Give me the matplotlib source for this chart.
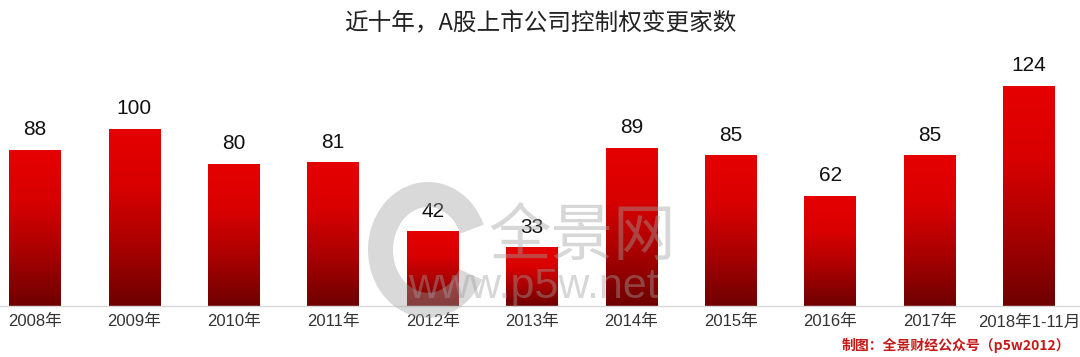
import matplotlib
matplotlib.use("Agg")
import matplotlib.pyplot as plt
import numpy as np
from matplotlib.colors import LinearSegmentedColormap
from matplotlib.patches import Arc

plt.rcParams['font.family'] = ['Noto Sans CJK SC', 'DejaVu Sans']

categories = ["2008年", "2009年", "2010年", "2011年", "2012年", "2013年",
              "2014年", "2015年", "2016年", "2017年", "2018年1-11月"]
values = [88, 100, 80, 81, 42, 33, 89, 85, 62, 85, 124]
title = "近十年，A股上市公司控制权变更家数"
source = "制图：全景财经公众号（p5w2012）"

fig = plt.figure(figsize=(10.8, 3.57), dpi=100)
ax = fig.add_axes([0, 51/357, 1, (357-51)/357])
x = np.arange(len(categories))

cmap = LinearSegmentedColormap.from_list("rg", ["#6e0000", "#a80000", "#d80000", "#e60000"])
grad = np.linspace(0, 1, 256).reshape(-1, 1)
w = 0.52
bars = ax.bar(x, values, width=w, color="none", edgecolor="none")
for b, v in zip(bars, values):
    x0 = b.get_x()
    im = ax.imshow(grad, cmap=cmap, origin="lower", aspect="auto",
                   extent=[x0, x0 + w, 0, v], zorder=2)
    im.set_clip_path(b)
    ax.text(b.get_x() + w/2, v + 6, str(v), ha="center", va="bottom",
            fontsize=15, color="#111111", zorder=5,
            family=['Liberation Sans', 'DejaVu Sans'])
ax.set_xlim(-0.352, 10.513)
ax.set_ylim(0, 306/1.774)

for s in ["top", "right", "left"]:
    ax.spines[s].set_visible(False)
ax.spines["bottom"].set_color("#d9d9d9")
ax.spines["bottom"].set_linewidth(1)
ax.set_yticks([])
ax.set_xticks(x)
ax.set_xticklabels(categories, fontsize=12, color="#333333",
                   family=['Liberation Sans', 'Noto Sans CJK SC'])
ax.tick_params(axis="x", length=0, pad=6)

# watermark
fig.text(0.452, 0.335, "全景网", fontsize=45, color="#a0a0a0", alpha=0.42,
         ha="left", va="center", zorder=10)
fig.text(0.378, 0.195, "www.p5w.net", fontsize=31, color="#a0a0a0", alpha=0.42,
         ha="left", va="center", zorder=10, family=['Liberation Sans'])
arc = Arc((428/1080, 0.30), 95/1080, 0.31, angle=0, theta1=55, theta2=300,
          transform=fig.transFigure, color="#a0a0a0", alpha=0.4, lw=18, zorder=10)
fig.add_artist(arc)

fig.text(0.5, 0.935, title, fontsize=17, color="#222222", ha="center", va="center")
fig.text(0.991, 0.033, source, fontsize=10, color="#c41a1a", ha="right",
         va="center", fontweight="bold")

fig.savefig("out.png", dpi=100, facecolor="white")
